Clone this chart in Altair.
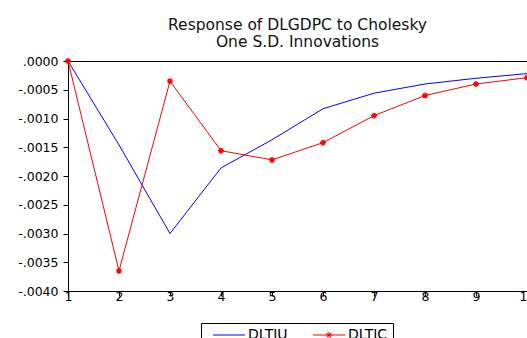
import altair as alt
import pandas as pd

periods = [1, 2, 3, 4, 5, 6, 7, 8, 9, 10]
dltiu = [0.0, -0.00146, -0.00300, -0.00186, -0.00137, -0.00083, -0.00056, -0.00040, -0.00030, -0.00022]
dltic = [0.0, -0.00365, -0.00035, -0.00156, -0.00172, -0.00142, -0.00095, -0.00060, -0.00040, -0.00029]
series_names = ["DLTIU", "DLTIC"]
series_colors = ["#0000ff", "#ff0000"]
y_ticks = [0.0, -0.0005, -0.0010, -0.0015, -0.0020, -0.0025, -0.0030, -0.0035, -0.0040]
title_lines = ["Response of DLGDPC to Cholesky", "One S.D. Innovations"]

rows = []
for name, vals in zip(series_names, [dltiu, dltic]):
    for p, v in zip(periods, vals):
        rows.append({"period": p, "value": v, "series": name})
df = pd.DataFrame(rows)

FONT = "DejaVu Sans"
ASTER = "M-1,0L1,0M0,-1L0,1M-0.7,-0.7L0.7,0.7M-0.7,0.7L0.7,-0.7"
LEG_LINE = "M-4,0L4,0"
LEG_STAR = ("M-4,0L4,0M0,-0.8L0,0.8M-0.8,0L0.8,0"
            "M-0.56,-0.56L0.56,0.56M-0.56,0.56L0.56,-0.56")

x_enc = alt.X("period:Q",
              scale=alt.Scale(domain=[1, 10], nice=False, zero=False),
              axis=alt.Axis(values=periods, format="d", title=None, grid=False,
                            tickSize=5, labelPadding=-6, labelFlush=False))
y_enc = alt.Y("value:Q",
              scale=alt.Scale(domain=[-0.004, 0], nice=False, zero=False),
              axis=alt.Axis(values=y_ticks, title=None, grid=False, tickSize=5,
                            labelPadding=5,
                            labelExpr="datum.value == 0 ? '.0000' : '-.' + format(round(abs(datum.value)*10000), '04d')"))

color_scale = alt.Scale(domain=series_names, range=series_colors)

lines = alt.Chart(df).mark_line(strokeWidth=1).encode(
    x=x_enc, y=y_enc,
    color=alt.Color("series:N", scale=color_scale, legend=None),
    detail="series:N",
)

stars = alt.Chart(df).transform_filter(alt.datum.series == "DLTIC").mark_point(
    shape=ASTER, size=36, filled=False, color="#ff0000", strokeWidth=1.4, opacity=1
).encode(x=x_enc, y=y_enc)

legend_layer = alt.Chart(df).mark_point(size=0, filled=False, strokeWidth=1).encode(
    x=x_enc, y=y_enc,
    color=alt.Color("series:N", scale=color_scale,
                    legend=alt.Legend(title=None, orient="none", legendX=133, legendY=262,
                                      direction="horizontal", strokeColor="black",
                                      padding=5, symbolSize=64, symbolStrokeWidth=1,
                                      symbolOffset=16,
                                      symbolOpacity=1, labelFont=FONT, labelFontSize=14,
                                      labelColor="black", columnPadding=18, labelOffset=12)),
    shape=alt.Shape("series:N", scale=alt.Scale(domain=series_names, range=[LEG_LINE, LEG_STAR])),
)

chart = alt.layer(lines, stars, legend_layer).resolve_legend(
    color="independent", shape="independent"
).properties(
    width=459, height=230,
    background="white",
    title=alt.TitleParams(text=title_lines, font=FONT, fontSize=15.5, fontWeight="normal",
                          color="#111111", anchor="middle", lineHeight=16.5, offset=5),
    autosize=alt.AutoSizeParams(type="none"),
    padding={"left": 68, "top": 61, "right": 0, "bottom": 47},
).configure_view(stroke="black", strokeWidth=1).configure_axis(
    domainColor="black", tickColor="black", labelColor="black",
    labelFont=FONT, labelFontSize=12.5, domainWidth=1,
)

chart.save("out.html", embed_options={"renderer": "svg", "actions": False})
